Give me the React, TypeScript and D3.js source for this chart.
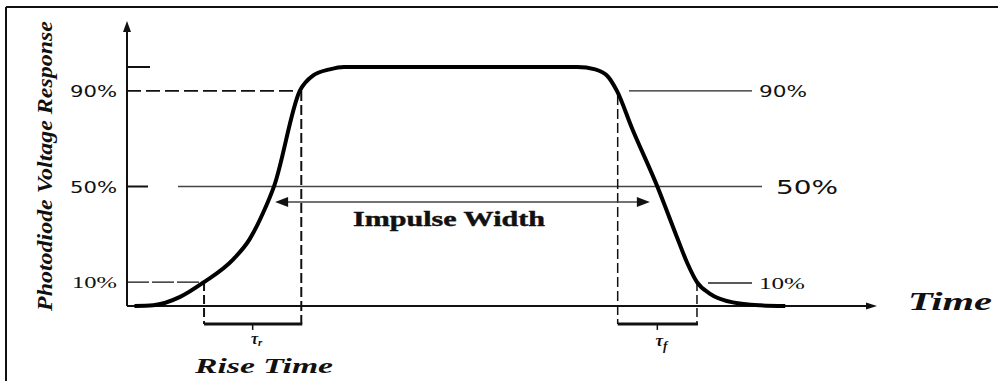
import React from "react";
import * as d3 from "d3";

// Pulse response curve (time in arbitrary units 0-100, level in % of peak)
const curveTime = [1, 3.5, 7.1, 10.3, 14.2, 16.4, 18.2, 19.7, 23.1, 24.9, 27.1, 29, 60.2, 62.6, 64.3, 65.5, 67.5, 70.9, 73.5, 74.9, 76.2, 77.9, 81.0, 84.6, 88];
const curveLevel = [0, 0.3, 3.8, 10, 19.5, 28, 39, 50.5, 90, 96.5, 99, 100, 100, 99, 96, 90, 74.5, 50, 29, 18, 10, 5.2, 1.5, 0.3, 0];

// Reference levels and crossing times
const levelLabels = ["10%", "50%", "90%"];
const levelValues = [10, 50, 90];
const riseStart = 10.3;
const riseEnd = 23.3;
const fallStart = 65.6;
const fallEnd = 76.2;
const widthStart = 19.8;
const widthEnd = 69.9;

const W = 998;
const H = 381;

export default function App() {
  const x = d3.scaleLinear().domain([0, 100]).range([127, 875]);
  const y = d3.scaleLinear().domain([0, 100]).range([306, 67]);
  const pts: [number, number][] = curveTime.map((t, i) => [t, curveLevel[i]]);
  const line = d3
    .line<[number, number]>()
    .x((d) => x(d[0]))
    .y((d) => y(d[1]))
    .curve(d3.curveMonotoneX);

  const serif = "'Liberation Serif', 'DejaVu Serif', serif";
  const sans = "'DejaVu Sans', Verdana, sans-serif";
  const x0 = x(0);
  const yb = y(0);
  const y10 = y(levelValues[0]);
  const y50 = y(levelValues[1]);
  const y90 = y(levelValues[2]);
  const bracketY = y(-7.5);
  const bracketTick = y(-10);
  const arrowY = y(43.5);
  const tauR = (x(riseStart) + x(riseEnd)) / 2;
  const tauF = (x(fallStart) + x(fallEnd)) / 2;

  return (
    <svg width={W} height={H} style={{ position: "absolute", left: 0, top: 0, background: "#fff" }}>
      <rect x={0} y={0} width={W} height={H} fill="#fff" />
      {/* frame */}
      <line x1={6} y1={7} x2={W} y2={7} stroke="#111" strokeWidth={2} />
      <line x1={6} y1={7} x2={6} y2={H} stroke="#111" strokeWidth={2} />

      {/* axes */}
      <line x1={x0} y1={yb} x2={x0} y2={30} stroke="#111" strokeWidth={2} />
      <path d={`M${x0},21 L${x0 - 4},32 L${x0 + 4},32 Z`} fill="#111" />
      <line x1={x0} y1={yb} x2={x(99)} y2={yb} stroke="#111" strokeWidth={2} />
      <path d={`M${x(100) + 2},${yb} L${x(100) - 9},${yb - 3.5} L${x(100) - 9},${yb + 3.5} Z`} fill="#111" />

      {/* left level marks */}
      <line x1={x0} y1={y(100)} x2={x0 + 23} y2={y(100)} stroke="#111" strokeWidth={2} />
      <line x1={x0} y1={y90} x2={x(riseEnd)} y2={y90} stroke="#111" strokeWidth={1.6} strokeDasharray="14,5" />
      <line x1={x0} y1={y50} x2={x0 + 21} y2={y50} stroke="#111" strokeWidth={2} />
      <line x1={x0 + 51} y1={y50} x2={762} y2={y50} stroke="#444" strokeWidth={1.5} />
      <line x1={x0} y1={y10} x2={x(riseStart)} y2={y10} stroke="#111" strokeWidth={1.4} strokeDasharray="22,3" />

      {/* right level marks */}
      <line x1={629} y1={y90} x2={752} y2={y90} stroke="#222" strokeWidth={1.3} />
      <line x1={708} y1={y10 + 1} x2={752} y2={y10 + 1} stroke="#222" strokeWidth={1.5} />

      {/* vertical dashed lines */}
      <line x1={x(riseStart)} y1={y10} x2={x(riseStart)} y2={bracketY} stroke="#111" strokeWidth={2} strokeDasharray="9,4" />
      <line x1={x(riseEnd)} y1={y90} x2={x(riseEnd)} y2={bracketY} stroke="#111" strokeWidth={2} strokeDasharray="10,4" />
      <line x1={x(fallStart)} y1={y90 + 4} x2={x(fallStart)} y2={bracketY} stroke="#111" strokeWidth={1.5} strokeDasharray="10,4" />
      <line x1={x(fallEnd)} y1={y10} x2={x(fallEnd)} y2={bracketY} stroke="#111" strokeWidth={1.5} strokeDasharray="9,4" />

      {/* brackets */}
      <line x1={x(riseStart)} y1={bracketY} x2={x(riseEnd) + 1} y2={bracketY} stroke="#111" strokeWidth={3} />
      <line x1={tauR} y1={bracketY} x2={tauR} y2={bracketTick} stroke="#111" strokeWidth={1.5} />
      <line x1={x(fallStart)} y1={bracketY} x2={x(fallEnd) + 1} y2={bracketY} stroke="#111" strokeWidth={3} />
      <line x1={tauF} y1={bracketY} x2={tauF} y2={bracketTick} stroke="#111" strokeWidth={1.5} />

      {/* impulse width arrow */}
      <line x1={x(widthStart) + 8} y1={arrowY} x2={x(widthEnd) - 8} y2={arrowY} stroke="#444" strokeWidth={1.5} />
      <path d={`M${x(widthStart)},${arrowY} L${x(widthStart) + 13},${arrowY - 5} L${x(widthStart) + 13},${arrowY + 5} Z`} fill="#111" />
      <path d={`M${x(widthEnd)},${arrowY} L${x(widthEnd) - 13},${arrowY - 5} L${x(widthEnd) - 13},${arrowY + 5} Z`} fill="#111" />
      <text x={449} y={226} textAnchor="middle" fontFamily={serif} fontWeight="bold" fontSize={20} textLength={192} lengthAdjust="spacingAndGlyphs" fill="#111" stroke="#111" strokeWidth={0.4}>Impulse Width</text>

      {/* pulse curve */}
      <path d={line(pts) || ""} fill="none" stroke="#000" strokeWidth={4} strokeLinejoin="round" />

      {/* left level labels */}
      <text x={117} y={y90 + 6} textAnchor="end" fontFamily={sans} fontSize={16} textLength={47} lengthAdjust="spacingAndGlyphs" fill="#111">{levelLabels[2]}</text>
      <text x={117} y={y50 + 6} textAnchor="end" fontFamily={sans} fontSize={16} textLength={47} lengthAdjust="spacingAndGlyphs" fill="#111">{levelLabels[1]}</text>
      <text x={117} y={y10 + 6} textAnchor="end" fontFamily={serif} fontSize={17} textLength={45} lengthAdjust="spacingAndGlyphs" fill="#111">{levelLabels[0]}</text>

      {/* right level labels */}
      <text x={759} y={y90 + 6} fontFamily={sans} fontSize={16} textLength={48} lengthAdjust="spacingAndGlyphs" fill="#111">{levelLabels[2]}</text>
      <text x={776} y={y50 + 7} fontFamily={sans} fontSize={20} textLength={62} lengthAdjust="spacingAndGlyphs" fill="#111">{levelLabels[1]}</text>
      <text x={759} y={y10 + 7} fontFamily={serif} fontSize={17} textLength={46} lengthAdjust="spacingAndGlyphs" fill="#111">{levelLabels[0]}</text>

      {/* tau labels */}
      <text x={tauR + 4} y={344} textAnchor="middle" fontFamily={serif} fontStyle="italic" fontWeight="bold" fontSize={16} fill="#111">
        τ<tspan fontSize={11} dy={2}>r</tspan>
      </text>
      <text x={tauF + 4} y={346} textAnchor="middle" fontFamily={serif} fontStyle="italic" fontWeight="bold" fontSize={17} fill="#111">
        τ<tspan fontSize={13} dy={4}>f</tspan>
      </text>

      {/* titles */}
      <text x={195} y={373} fontFamily={serif} fontStyle="italic" fontWeight="bold" fontSize={21} textLength={138} lengthAdjust="spacingAndGlyphs" fill="#111">Rise Time</text>
      <text x={908} y={310} fontFamily={serif} fontStyle="italic" fontWeight="bold" fontSize={25} textLength={84} lengthAdjust="spacingAndGlyphs" fill="#111">Time</text>
      <text transform="translate(52,311) rotate(-90)" fontFamily={serif} fontStyle="italic" fontWeight="bold" fontSize={22} textLength={290} lengthAdjust="spacingAndGlyphs" fill="#111">Photodiode Voltage Response</text>
    </svg>
  );
}
